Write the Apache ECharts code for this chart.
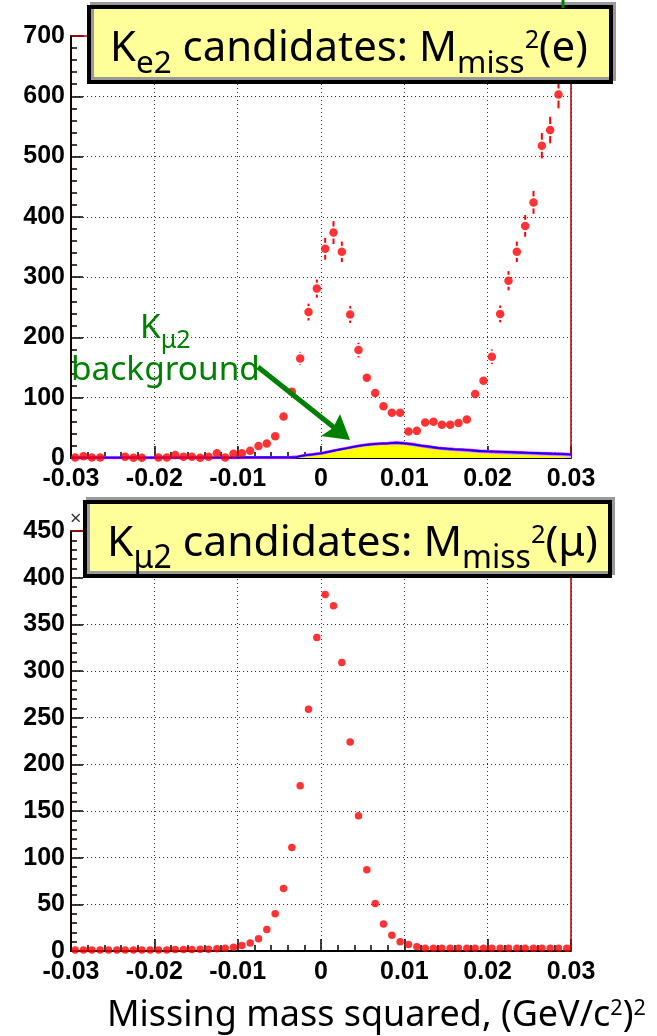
<!DOCTYPE html>
<html>
<head>
<meta charset="utf-8">
<script src="https://cdn.jsdelivr.net/npm/echarts@6/dist/echarts.min.js"></script>
<style>
  html, body { margin: 0; padding: 0; background: #fff; }
  #main { width: 657px; height: 1036px; }
</style>
</head>
<body>
<div id="main"></div>
<script>
// binning: 60 bins of 0.001 between -0.03 and 0.03
const xLow = -0.03, binWidth = 0.001, nBins = 60;
const xTickLabels = ['-0.03', '-0.02', '-0.01', '0', '0.01', '0.02', '0.03'];
const yTicksTop = [0, 100, 200, 300, 400, 500, 600, 700];
const yTicksBottom = [0, 50, 100, 150, 200, 250, 300, 350, 400, 450];

// Ke2 candidates, data points and errors (null = empty bin / off scale)
const ke2Counts = [
  1, 3, 1, 1, null, null, 2, 0.5, 0.5, null,
  1, 1, 5, 2, 2, 0.5, 2, 8, 1, 7,
  8, 12, 20, 24, 36, 69, 110, 165, 242, 281,
  347, 374, 342, 238, 179, 133, 108, 86, 75, 75,
  44, 45, 59, 60, 55, 55, 58, 64, 106, 128,
  168, 239, 294, 342, 385, 424, 518, 544, 603, null
];
const ke2Errors = [
  1, 2, 1, 1, null, null, 1, 1, 1, null,
  1, 1, 2, 1, 1, 1, 1, 3, 1, 3,
  3, 3, 4, 5, 6, 7, 9, 11, 14, 15,
  18, 19, 17, 14, 12, 10, 9, 8, 8, 8,
  6, 6, 7, 7, 7, 7, 7, 7, 9, 10,
  12, 14, 16, 17, 18, 19, 21, 22, 23, null
];
// Kmu2 background (yellow) and total background (blue line)
const bkgKmu2 = [
  0, 0, 0, 0, 0, 0, 0, 0, 0, 0,
  0, 0, 0, 0, 0, 0, 0, 0, 0, 0,
  0, 0, 0, 0, 0, 0, 0, 1.5, 3, 5,
  8, 11, 13.5, 16, 18.5, 20, 21, 21.5, 22, 21,
  19.5, 17.5, 15.5, 13.5, 12, 11, 10, 9, 8, 7,
  6.5, 6, 5.5, 5, 4.5, 4, 3.5, 3, 3, 2.5
];
const bkgTotal = [
  0.5, 0.5, 0.5, 0.5, 0.5, 0.5, 0.5, 0.5, 0.5, 0.5,
  0.5, 0.5, 0.5, 0.5, 0.5, 0.5, 0.5, 0.5, 0.5, 0.5,
  1, 1, 1, 1, 1, 1, 1.5, 4.4, 6, 7.7,
  10.5, 13.3, 16, 18.8, 21, 22.7, 23.8, 24.3, 25.4, 24.3,
  22.7, 20.5, 18.8, 16.6, 15.5, 14.4, 13.8, 12.7, 11.6, 11,
  10.5, 10, 9.5, 9, 8.5, 8, 7.5, 7, 6.5, 6
];
// Kmu2 candidates
const kmu2Counts = [
  1, 1, 1, 1, 1, 1, 1, 1, 1, 1,
  1, 1, 1.5, 1.5, 1.5, 2, 2, 2.5, 3, 4,
  6, 8.5, 13, 23, 40, 67, 111, 177, 259, 336,
  382, 370, 309, 224, 145, 87, 51, 29, 17, 10,
  7, 4.5, 3, 3, 3, 3, 3, 3, 3, 3,
  3, 3, 3, 3, 3, 3, 3, 3, 3, 3
];

const centers = [];
for (let i = 0; i < nBins; i++) centers.push(+(xLow + (i + 0.5) * binWidth).toFixed(4));

function points(vals) {
  const out = [];
  vals.forEach((v, i) => { if (v !== null) out.push([centers[i], v]); });
  return out;
}
function steps(vals) {
  const out = [];
  vals.forEach((v, i) => {
    out.push([+(xLow + i * binWidth).toFixed(4), v]);
    out.push([+(xLow + (i + 1) * binWidth).toFixed(4), v]);
  });
  return out;
}
const errData = [];
ke2Counts.forEach((v, i) => { if (v !== null) errData.push([centers[i], v, ke2Errors[i]]); });

// text measuring for the boxed labels
const FAM = "'Noto Sans'";
const mctx = document.createElement('canvas').getContext('2d');
function textW(t, s) { mctx.font = s + 'px ' + FAM; return mctx.measureText(t).width; }
// parts: [text, kind] kind n / sub / sup
function textRun(parts, x0, base, size, color, targetW) {
  const scl = { n: 1, sub: 0.75, sup: 0.6 };
  const shift = { n: 0, sub: 0.27, sup: -0.32 };
  if (targetW) {
    let w = 0;
    parts.forEach(p => { w += textW(p[0], size * scl[p[1]]); });
    size = size * targetW / w;
  }
  const els = [];
  let x = x0;
  parts.forEach(p => {
    const s = size * scl[p[1]];
    const b = base + shift[p[1]] * size;
    els.push({
      type: 'text', x: x, y: b - 0.3 * s, z: 110,
      style: { text: p[0], font: s + 'px ' + FAM, fill: color, align: 'left', verticalAlign: 'middle' }
    });
    x += textW(p[0], s);
  });
  return els;
}

const axisFont = { fontFamily: 'Liberation Sans', fontWeight: 'bold', fontSize: 25, color: '#000' };

function xAxisCfg(g) {
  return {
    gridIndex: g, type: 'value', min: -0.03, max: 0.03, interval: 0.01,
    axisLine: { show: true, onZero: false, lineStyle: { color: '#000', width: 2 } },
    axisTick: { show: true, inside: true, length: 12, lineStyle: { color: '#000', width: 1.5 } },
    minorTick: { show: true, splitNumber: 5, length: 6, lineStyle: { color: '#000', width: 1.5 } },
    splitLine: { show: true, lineStyle: { type: [1, 3], color: '#333', width: 1 } },
    axisLabel: Object.assign({
      margin: 9,
      formatter: v => xTickLabels[Math.round(v * 100) + 3]
    }, axisFont)
  };
}
function yAxisCfg(g, max, interval) {
  return {
    gridIndex: g, type: 'value', min: 0, max: max, interval: interval,
    axisLine: { show: true, onZero: false, lineStyle: { color: '#1a0000', width: 2 } },
    axisTick: { show: true, inside: true, length: 12, lineStyle: { color: '#000', width: 1.5 } },
    minorTick: { show: true, splitNumber: 5, length: 6, lineStyle: { color: '#000', width: 1.5 } },
    splitLine: { show: true, lineStyle: { type: [1, 3], color: '#333', width: 1 } },
    axisLabel: Object.assign({ margin: 6, formatter: v => String(v) }, axisFont)
  };
}

const frameColor = '#b00000';
const graphics = [
  // red frame: top and right edges of both panels
  { type: 'polyline', z: 1, shape: { points: [[71, 36], [571, 36], [571, 458]] },
    style: { stroke: frameColor, lineWidth: 1.5, fill: null } },
  { type: 'polyline', z: 1, shape: { points: [[71, 531], [571, 531], [571, 951]] },
    style: { stroke: frameColor, lineWidth: 1.5, fill: null } },
  // title boxes
  { type: 'rect', z: 100, shape: { x: 89, y: 7, width: 522, height: 75 },
    style: { fill: '#ffff99', stroke: '#000', lineWidth: 4, shadowColor: '#999', shadowOffsetX: 3, shadowOffsetY: -3 } },
  { type: 'rect', z: 100, shape: { x: 85, y: 502, width: 525, height: 74 },
    style: { fill: '#ffff99', stroke: '#000', lineWidth: 4, shadowColor: '#999', shadowOffsetX: 3, shadowOffsetY: -3 } },
  // arrow
  { type: 'line', z: 100, shape: { x1: 258, y1: 367, x2: 336, y2: 429 },
    style: { stroke: '#008000', lineWidth: 5 } },
  { type: 'polygon', z: 100, shape: { points: [[350, 440], [321, 436], [333, 428], [340, 414]] },
    style: { fill: '#008000' } },
  { type: 'line', z: 100, shape: { x1: 563, y1: 0, x2: 563, y2: 8 },
    style: { stroke: '#008000', lineWidth: 3 } },
  { type: 'text', z: 100, x: 70, y: 519,
    style: { text: '×', font: '20px ' + FAM, fill: '#333', align: 'left', verticalAlign: 'middle' } }
];
graphics.push(...textRun([['K', 'n'], ['e2', 'sub'], [' candidates: M', 'n'], ['miss', 'sub'], ['2', 'sup'], ['(e)', 'n']],
  110, 62, 40, '#000', 478));
graphics.push(...textRun([['K', 'n'], ['μ2', 'sub'], [' candidates: M', 'n'], ['miss', 'sub'], ['2', 'sup'], ['(μ)', 'n']],
  107, 557, 40, '#000', 491));
const bgSize = 31 * 189 / textW('background', 31);
graphics.push(...textRun([['background', 'n']], 71, 381, bgSize, '#008000'));
graphics.push(...textRun([['K', 'n'], ['μ2', 'sub']], 140, 339, bgSize, '#008000'));
graphics.push(...textRun([['Missing mass squared, (GeV/c', 'n'], ['2', 'sup'], [')', 'n'], ['2', 'sup']],
  107, 1027, 28, '#000', 539));

const chart = echarts.init(document.getElementById('main'));
chart.setOption({
  animation: false,
  backgroundColor: '#fff',
  grid: [
    { left: 71, top: 36, width: 500, height: 422 },
    { left: 71, top: 531, width: 500, height: 420 }
  ],
  xAxis: [xAxisCfg(0), xAxisCfg(1)],
  yAxis: [yAxisCfg(0, 700, 100), yAxisCfg(1, 450, 50)],
  graphic: graphics,
  series: [
    { type: 'line', xAxisIndex: 0, yAxisIndex: 0, data: steps(bkgTotal), showSymbol: false, z: 2,
      lineStyle: { color: '#ff00ff', width: 3 }, areaStyle: { color: '#c0b4ff', opacity: 1 } },
    { type: 'line', xAxisIndex: 0, yAxisIndex: 0, data: steps(bkgKmu2), showSymbol: false, z: 3,
      lineStyle: { width: 0 }, areaStyle: { color: '#ffff00', opacity: 1 } },
    { type: 'line', xAxisIndex: 0, yAxisIndex: 0, data: steps(bkgTotal), showSymbol: false, z: 4,
      lineStyle: { color: '#0000ff', width: 1.8 } },
    { type: 'custom', xAxisIndex: 0, yAxisIndex: 0, data: errData, z: 5, clip: true,
      renderItem: function (params, api) {
        const x = api.value(0), v = api.value(1), e = api.value(2);
        const p = api.coord([x, v]);
        const t = api.coord([x, v + e]);
        const b = api.coord([x, v - e]);
        const gap = 6;
        const kids = [];
        if (t[1] < p[1] - gap) kids.push({ type: 'line', shape: { x1: p[0], y1: t[1], x2: p[0], y2: p[1] - gap }, style: { stroke: '#ff0000', lineWidth: 2 } });
        if (b[1] > p[1] + gap) kids.push({ type: 'line', shape: { x1: p[0], y1: p[1] + gap, x2: p[0], y2: b[1] }, style: { stroke: '#ff0000', lineWidth: 2 } });
        return { type: 'group', children: kids };
      }
    },
    { type: 'scatter', xAxisIndex: 0, yAxisIndex: 0, data: points(ke2Counts), symbolSize: 8.5, z: 6,
      itemStyle: { color: '#ff0000' } },
    { type: 'scatter', xAxisIndex: 1, yAxisIndex: 1, data: points(kmu2Counts), symbolSize: 7.5, z: 6,
      itemStyle: { color: '#ff0000' } }
  ]
});
</script>
</body>
</html>
